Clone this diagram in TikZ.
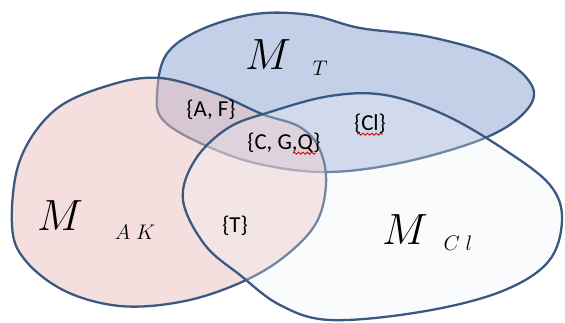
\documentclass[tikz,border=0pt]{standalone}
\usepackage{fontspec}
\newfontfamily\setfont{Carlito}
\usetikzlibrary{decorations.pathmorphing}
\definecolor{edgeBlue}{RGB}{58,88,128}
\definecolor{fillBlue}{RGB}{196,208,232}
\definecolor{fillPink}{RGB}{234,192,190}
\definecolor{fillGrey}{RGB}{240,242,246}
\newcommand{\BigM}[1]{\fontsize{#1}{#1}\selectfont$M$}
\newcommand{\SubLbl}[1]{\fontsize{13}{14}\selectfont$#1$}

\begin{document}
\begin{tikzpicture}[x=0.02cm,y=-0.02cm,
  blob/.style={draw=edgeBlue,line width=1.3pt,line join=round},
  setlbl/.style={font=\setfont\fontsize{13}{14}\selectfont,inner sep=1pt},
  spell/.style={draw=red!85!black,line width=0.5pt,decorate,decoration={snake,amplitude=0.6pt,segment length=2.5pt}}]
\useasboundingbox (0,0) rectangle (565,322);
% the three sets
\draw[blob,fill=fillBlue] plot[smooth cycle,tension=0.6] coordinates {
  (157,95) (166,55) (200,30) (255,14) (310,15) (360,28) (430,37) (500,58)
  (533,88) (522,115) (480,140) (400,163) (325,172) (255,163) (198,142) (163,120)};
\draw[blob,fill=fillPink,fill opacity=0.5] plot[smooth cycle,tension=0.6] coordinates {
  (12,225) (20,160) (55,110) (110,85) (160,78) (215,93) (262,114) (300,127)
  (320,150) (326,185) (315,225) (280,260) (235,285) (180,302) (120,306) (65,291) (25,260)};
\draw[blob,fill=fillGrey,fill opacity=0.3] plot[smooth cycle,tension=0.6] coordinates {
  (183,200) (195,160) (228,128) (270,112) (330,96) (385,95) (445,115) (505,150)
  (550,185) (562,220) (548,262) (500,292) (420,312) (330,320) (280,305) (240,275) (205,245)};
% names of the sets
\node (mT) at (268,55) {\BigM{28}};
\node (subT) at (320,68) {\SubLbl{T}};
\node (mAK) at (60,216) {\BigM{28}};
\node (subAK) at (135,232) {\SubLbl{A\;K}};
\node (mCl) at (405,230) {\BigM{28}};
\node (subCl) at (458,243) {\SubLbl{C\;l}};
% elements
\node[setlbl] (af) at (211,110) {\{A, F\}};
\node[setlbl] (cgq) at (284,143) {\{C, G,Q\}};
\node[setlbl] (cl) at (370,124) {\{Cl\}};
\node[setlbl] (t) at (235,226) {\{T\}};
\draw[spell] ([xshift=-17pt,yshift=1pt]cgq.south east) -- ([xshift=-4pt,yshift=1pt]cgq.south east);
\draw[spell] ([xshift=3pt,yshift=1pt]cl.south west) -- ([xshift=-3pt,yshift=1pt]cl.south east);
\end{tikzpicture}
\end{document}
